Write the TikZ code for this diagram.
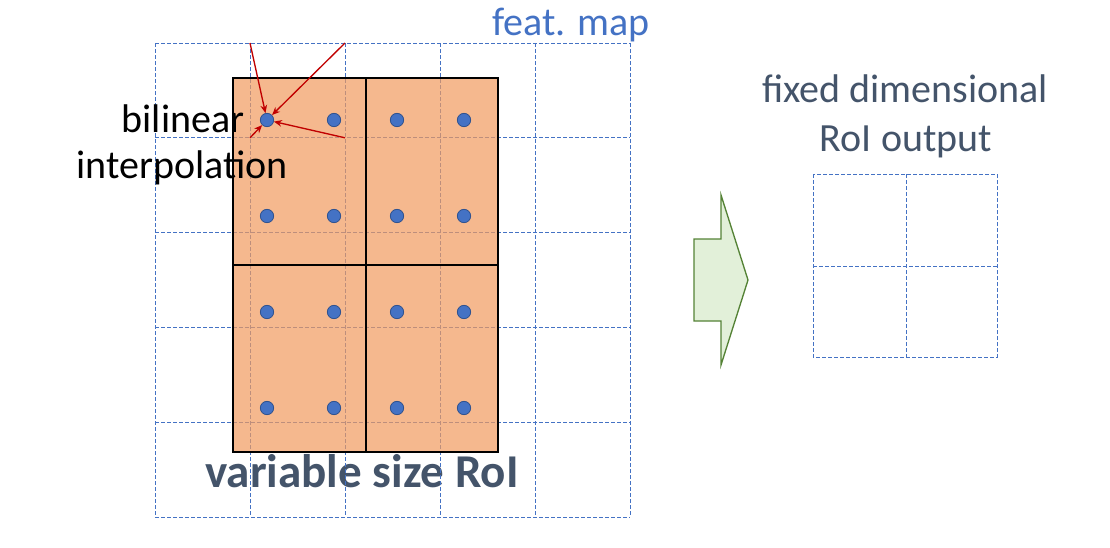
\documentclass[tikz,border=0pt]{standalone}
\usepackage{fontspec}
\setmainfont{Carlito}
\usetikzlibrary{arrows.meta}
\definecolor{gridblue}{HTML}{4472C4}
\definecolor{dotline}{HTML}{2F528F}
\definecolor{roiorange}{HTML}{F19A5E}
\definecolor{slate}{HTML}{44546A}
\definecolor{arrowred}{HTML}{C00000}
\definecolor{leaf}{HTML}{E2F0D9}
\definecolor{leafline}{HTML}{548235}
\tikzset{
  gridline/.style={draw=gridblue, line width=0.75pt, dash pattern=on 3pt off 1.5pt},
  dot/.style={circle, fill=gridblue, draw=dotline, line width=0.6pt, minimum size=10pt, inner sep=0pt},
  pull/.style={draw=arrowred, line width=1pt, -{Stealth[length=6pt,width=5pt]}},
  label/.style={font=\fontsize{30}{36}\selectfont, anchor=base}
}
\begin{document}
\begin{tikzpicture}[x=0.75pt, y=-0.75pt]
    \useasboundingbox (0,0) rectangle (1110,547);
    % title texts
    \node[label, text=gridblue] (fmap) at (571,35) {feat. map};
    \node[font=\bfseries\fontsize{35.3}{42}\selectfont, text=slate, anchor=base] (roi) at (362,487) {variable size RoI};
    % feature map grid
    \foreach \i in {0,...,5} {
        \draw[gridline] (155+95*\i,43) -- (155+95*\i,517);
        \draw[gridline] (155,43+94.8*\i) -- (630,43+94.8*\i);
    }
    \coordinate (g10) at (250,43);
    \coordinate (g20) at (345,43);
    \coordinate (g11) at (250,137.8);
    \coordinate (g21) at (345,137.8);
    % RoI cells
    \fill[roiorange, fill opacity=0.7] (233,78) rectangle (498,452);
    \draw[line width=1.4pt] (233,78) rectangle (498,452);
    \draw[line width=1.4pt] (366,78) -- (366,452);
    \draw[line width=1.4pt] (233,265) -- (498,265);
    \node[label] (bilin) at (183,132) {bilinear};
    \node[label] (interp) at (182,178) {interpolation};
    % sampling points
    \foreach \x/\c in {267/1, 334/2, 397/3, 464/4} {
        \foreach \y/\r in {120/1, 216/2, 312/3, 408/4} {
            \node[dot] (d\c\r) at (\x,\y) {};
        }
    }
    \draw[pull] (g10) -- (d11);
    \draw[pull] (g20) -- (d11);
    \draw[pull] (g21) -- (d11);
    \draw[pull] (g11) -- (d11);
    % arrow
    \draw[fill=leaf, draw=leafline, line width=1pt] (694,239) -- (721,239) -- (721,195) -- (748,280) -- (721,365) -- (721,321) -- (694,321) -- cycle;
    % output
    \node[label, text=slate] (fixed) at (905,102) {fixed dimensional};
    \node[label, text=slate] (out) at (906,151) {RoI output};
    \draw[gridline] (813,174) rectangle (997,357);
    \draw[gridline] (906,174) -- (906,357);
    \draw[gridline] (813,266) -- (997,266);
\end{tikzpicture}
\end{document}
